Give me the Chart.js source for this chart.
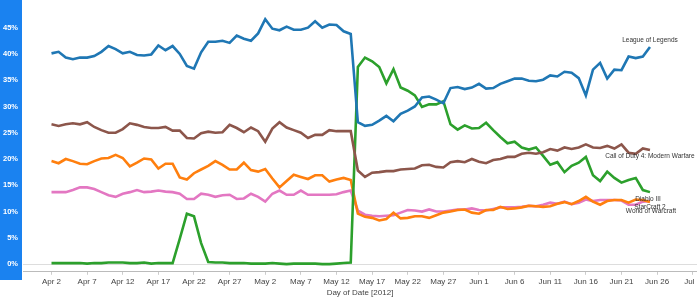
<!DOCTYPE html>
<html>
<head>
<meta charset="utf-8">
<script src="https://cdn.jsdelivr.net/npm/chart.js@4"></script>
<style>
  html, body { margin: 0; padding: 0; background: #fff; }
  canvas { display: block; }
</style>
</head>
<body>
<canvas id="chart" width="697" height="304"></canvas>
<script>
// one value per day, Apr 2 .. Jun 25 2012
const TICK_LABELS = ['Apr 2', 'Apr 7', 'Apr 12', 'Apr 17', 'Apr 22', 'Apr 27', 'May 2', 'May 7', 'May 12',
  'May 17', 'May 22', 'May 27', 'Jun 1', 'Jun 6', 'Jun 11', 'Jun 16', 'Jun 21', 'Jun 26', 'Jul 1'];
const Y_TICKS = [0, 5, 10, 15, 20, 25, 30, 35, 40, 45];

const LEAGUE = [40.1, 40.4, 39.3, 39.0, 39.3, 39.3, 39.6, 40.4, 41.5, 40.9, 40.1, 40.4, 39.8, 39.7, 39.9,
  41.6, 40.7, 41.5, 40.0, 37.7, 37.2, 40.3, 42.3, 42.3, 42.5, 42.1, 43.5, 42.9, 42.5, 43.9,
  46.6, 44.8, 44.5, 45.2, 44.6, 44.6, 45.0, 46.2, 45.0, 45.6, 45.5, 44.3, 43.8, 27.0, 26.3,
  26.5, 27.3, 28.2, 27.2, 28.6, 29.2, 30.0, 31.7, 31.9, 31.3, 30.6, 33.5, 33.7, 33.3, 33.6,
  34.3, 33.4, 33.5, 34.3, 34.8, 35.3, 35.3, 34.9, 34.8, 35.1, 35.9, 35.7, 36.6, 36.4, 35.4,
  32.1, 37.0, 38.3, 35.3, 37.0, 36.9, 39.5, 39.2, 39.5, 41.3];
const COD = [26.6, 26.3, 26.6, 26.8, 26.6, 27.0, 26.1, 25.5, 25.0, 25.0, 25.7, 26.8, 26.5, 26.1, 25.9,
  25.9, 26.1, 25.4, 25.4, 24.0, 23.9, 24.9, 25.2, 25.0, 25.1, 26.5, 25.9, 25.1, 26.0, 25.3,
  23.3, 25.8, 27.0, 26.0, 25.5, 25.0, 24.0, 24.6, 24.6, 25.5, 25.3, 25.3, 25.3, 17.8, 16.6,
  17.4, 17.5, 17.7, 17.7, 18.0, 18.1, 18.2, 18.8, 18.9, 18.5, 18.4, 19.4, 19.6, 19.4, 20.0,
  19.5, 19.2, 19.8, 20.0, 20.4, 20.4, 21.0, 21.2, 21.0, 21.3, 21.9, 21.6, 22.2, 21.9, 22.2,
  22.8, 22.2, 22.1, 22.5, 22.0, 22.8, 21.2, 21.0, 22.0, 21.7];
const DIABLO = [0.2, 0.2, 0.2, 0.2, 0.2, 0.1, 0.2, 0.2, 0.3, 0.3, 0.3, 0.2, 0.2, 0.3, 0.1,
  0.2, 0.2, 0.2, 4.8, 9.6, 9.1, 4.0, 0.4, 0.3, 0.3, 0.2, 0.2, 0.2, 0.1, 0.1,
  0.1, 0.2, 0.1, 0.0, 0.1, 0.1, 0.1, 0.1, 0.0, 0.0, 0.1, 0.2, 0.3, 37.5, 39.3,
  38.6, 37.5, 34.4, 37.1, 33.6, 33.0, 32.1, 29.9, 30.4, 30.4, 31.0, 26.6, 25.6, 26.4, 25.8,
  25.9, 26.9, 25.5, 24.2, 23.0, 23.3, 22.2, 21.8, 22.2, 20.6, 18.9, 19.4, 17.5, 18.7, 19.3,
  20.4, 16.9, 15.8, 17.6, 16.4, 15.5, 16.0, 16.4, 14.1, 13.7];
const STARCRAFT = [19.6, 19.2, 20.0, 19.6, 19.1, 19.0, 19.6, 20.1, 20.2, 20.8, 20.2, 18.6, 19.3, 20.1, 19.9,
  18.2, 19.1, 19.1, 16.5, 16.1, 17.3, 18.0, 18.7, 19.6, 18.9, 18.0, 18.0, 19.3, 17.9, 17.6,
  18.1, 16.3, 14.6, 15.8, 17.0, 16.6, 16.2, 16.9, 16.9, 15.7, 16.1, 16.4, 16.0, 9.6, 9.0,
  8.8, 8.3, 8.6, 9.8, 8.7, 8.8, 9.1, 9.1, 8.8, 9.3, 9.8, 10.0, 10.3, 10.4, 9.8,
  9.6, 10.3, 10.3, 10.9, 10.5, 10.6, 10.8, 11.1, 11.0, 10.9, 11.0, 11.5, 11.8, 11.4, 12.0,
  12.8, 11.9, 11.3, 12.0, 12.2, 12.2, 11.7, 12.3, 12.2, 11.8];
const WOW = [13.7, 13.7, 13.7, 14.1, 14.6, 14.6, 14.3, 13.7, 13.1, 12.8, 13.4, 13.7, 14.1, 13.7, 13.8,
  14.0, 13.8, 13.7, 13.4, 12.4, 12.4, 13.4, 13.2, 12.8, 13.1, 13.2, 12.4, 12.5, 13.4, 12.8,
  11.9, 13.4, 14.0, 13.2, 13.2, 14.0, 13.2, 13.2, 13.2, 13.2, 13.3, 13.7, 14.0, 10.2, 9.4,
  9.2, 9.1, 9.2, 9.3, 9.8, 10.3, 10.2, 10.0, 10.4, 10.0, 10.0, 10.2, 10.4, 10.4, 10.6,
  10.3, 10.2, 10.5, 10.8, 10.8, 10.8, 10.9, 11.1, 11.0, 11.3, 11.7, 11.5, 11.9, 11.4, 11.7,
  12.3, 12.0, 12.2, 12.2, 12.2, 12.1, 11.3, 11.3, 11.9, 12.0];

const toPoints = arr => arr.map((y, i) => ({ x: i, y: y }));

// game name written next to the last point of each line
const endLabels = {
  id: 'endLabels',
  afterDatasetsDraw(chart) {
    const ctx = chart.ctx;
    ctx.save();
    ctx.font = '6.5px "Liberation Sans", Arial, sans-serif';
    ctx.fillStyle = '#333';
    ctx.textAlign = 'center';
    ctx.textBaseline = 'middle';
    chart.data.datasets.forEach((ds, i) => {
      const pts = chart.getDatasetMeta(i).data;
      const last = pts[pts.length - 1];
      ctx.fillText(ds.label, last.x + ds.labelDx, last.y + ds.labelDy);
    });
    ctx.restore();
  }
};

// blue strip behind the y axis labels
const axisStrip = {
  id: 'axisStrip',
  beforeDraw(chart) {
    const ctx = chart.ctx;
    ctx.save();
    ctx.fillStyle = '#1a82f0';
    ctx.fillRect(0, 0, 22, 280);
    ctx.restore();
  }
};

const line = (label, data, color, dx, dy) => ({
  label: label,
  data: toPoints(data),
  borderColor: color,
  backgroundColor: color,
  borderWidth: 2.6,
  pointRadius: 0,
  tension: 0,
  labelDx: dx,
  labelDy: dy
});

new Chart(document.getElementById('chart'), {
  type: 'line',
  data: {
    datasets: [
      line('League of Legends', LEAGUE, '#1f77b4', 0, -7),
      line('Call of Duty 4: Modern Warfare', COD, '#8c564b', 0, 6),
      line('Diablo III', DIABLO, '#2ca02c', -2, 7),
      line('StarCraft 2', STARCRAFT, '#ff7f0e', 0, 5),
      line('World of Warcraft', WOW, '#e377c2', 1, 10)
    ]
  },
  options: {
    responsive: false,
    animation: false,
    devicePixelRatio: 1,
    layout: { padding: { top: 0, right: 0, bottom: 6, left: 0 } },
    plugins: {
      legend: { display: false },
      tooltip: { enabled: false }
    },
    scales: {
      x: {
        type: 'linear',
        min: -4,
        max: 90.6,
        afterBuildTicks: s => { s.ticks = TICK_LABELS.map((_, i) => ({ value: i * 5 })); },
        afterFit: s => { s.paddingLeft = 0; s.paddingRight = 0; },
        ticks: {
          autoSkip: false,
          maxRotation: 0,
          padding: 2,
          color: '#444',
          font: { size: 8, family: '"Liberation Sans", Arial, sans-serif' },
          callback: v => TICK_LABELS[v / 5] || ''
        },
        grid: { drawOnChartArea: false, tickLength: 3, color: '#ccc' },
        border: { display: true, color: '#bbb', dash: [2, 2] },
        title: {
          display: true,
          text: 'Day of Date [2012]',
          color: '#444',
          padding: 0,
          font: { size: 8, family: '"Liberation Sans", Arial, sans-serif' }
        }
      },
      y: {
        min: -1.46,
        max: 48.45,
        afterBuildTicks: s => { s.ticks = Y_TICKS.map(v => ({ value: v })); },
        afterFit: s => { s.width = 23; },
        ticks: {
          padding: 5,
          color: '#fff',
          font: { size: 7.5, weight: 'bold', family: '"Liberation Sans", Arial, sans-serif' },
          callback: v => v + '%'
        },
        grid: {
          drawTicks: false,
          color: c => (c.tick && c.tick.value === 0 ? '#ddd' : 'rgba(0,0,0,0)')
        },
        border: { display: false }
      }
    }
  },
  plugins: [axisStrip, endLabels]
});
</script>
</body>
</html>
